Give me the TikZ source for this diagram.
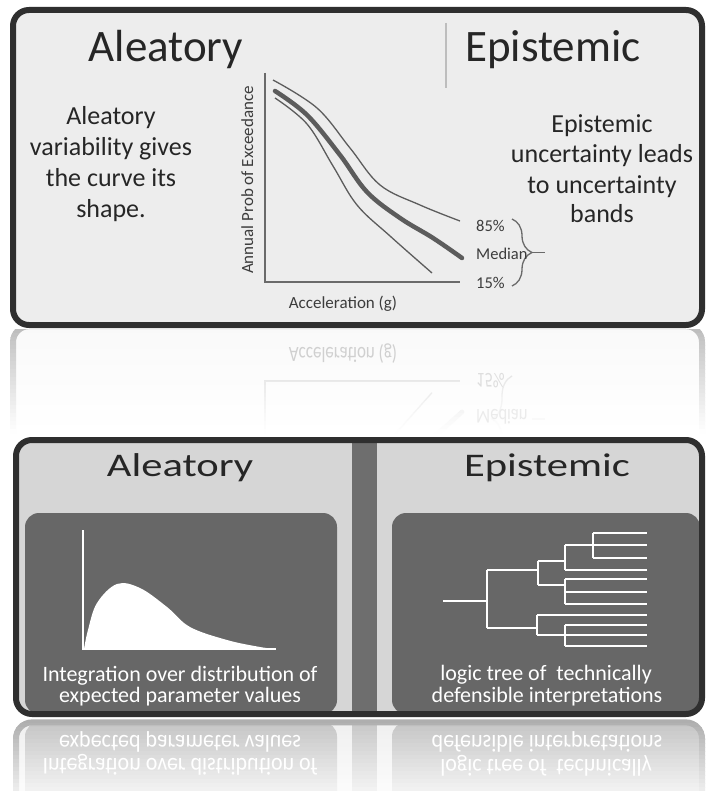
\documentclass[tikz,border=0pt]{standalone}
\usepackage{fontspec}
\setmainfont{Carlito}
\usetikzlibrary{decorations.pathreplacing}

% palette
\definecolor{frameC}{HTML}{2F2F2F}
\definecolor{paperC}{HTML}{EDEDED}
\definecolor{inkC}{HTML}{262626}
\definecolor{labC}{HTML}{3C3C3C}
\definecolor{axisC}{HTML}{6A6A6A}
\definecolor{curveC}{HTML}{5C5C5C}
\definecolor{sepC}{HTML}{BDBDBD}
\definecolor{slateC}{HTML}{D6D6D6}
\definecolor{boxC}{HTML}{676767}
\definecolor{barC}{HTML}{6E6E6E}
\definecolor{glyphC}{HTML}{FFFFFF}

\tikzset{
  titleTop/.style={font=\fontsize{45}{45}\selectfont, text=inkC, inner sep=0, anchor=base},
  bodyTop/.style={font=\fontsize{26}{26}\selectfont, text=inkC, inner sep=0, anchor=base},
  axlab/.style={font=\fontsize{17}{17}\selectfont, text=labC, inner sep=0, anchor=base},
  bandlab/.style={font=\fontsize{16.5}{16.5}\selectfont, text=labC, inner sep=0, anchor=base west},
  titleBot/.style={font=\fontsize{33}{33}\selectfont, text=inkC, inner sep=0, anchor=base},
  bodyBot/.style={font=\fontsize{22}{22}\selectfont, text=glyphC, inner sep=0, anchor=base},
  thinC/.style={curveC, line width=1.3},
  thickC/.style={curveC, line width=4.5, line cap=round},
  axisline/.style={axisC, line width=1.6},
  treeline/.style={glyphC, line width=1.5},
  mirrorTop/.style={shift={(0,325.5)}, yscale=-1.28, shift={(0,-325.5)}},
  mirrorBot/.style={shift={(0,718)}, yscale=-1.1, shift={(0,-718)}},
}

% ---------- hazard-curve panel ----------
\newcommand\TopFrame{%
  \fill[paperC, rounded corners=16] (13,10) rectangle (702,325);
  \draw[frameC, line width=6, rounded corners=16] (13,10) rectangle (702,325);
}
\newcommand\TopTexts{%
  \coordinate (sepA) at (446,23);
  \coordinate (sepB) at (446,88);
  \draw[sepC, line width=2] (sepA) -- (sepB);
  \node[titleTop] (tAl) at (166,62) {Aleatory};
  \node[titleTop] (tEp) at (553,62) {Epistemic};
  \foreach \txt/\yy [count=\i] in {Aleatory/125, variability gives/155.5, the curve its/187, shape./218}
    \node[bodyTop] (al\i) at (111,\yy) {\txt};
  \foreach \txt/\yy [count=\i] in {Epistemic/133, uncertainty leads/163, to uncertainty/194, bands/223}
    \node[bodyTop] (ep\i) at (602,\yy) {\txt};
}
\newcommand\TopLines{%
  \coordinate (O) at (265,282);
  \coordinate (Ytop) at (265,73);
  \coordinate (Xend) at (460,282);
  \draw[axisline] (Ytop) -- (O) -- (Xend);
  \draw[thinC] plot[smooth, tension=0.6] coordinates {(273,80) (317,108) (350,148) (380,185) (420,205) (460,221)};
  \draw[thickC] plot[smooth, tension=0.6] coordinates {(275,91) (307,115) (340,155) (367,192) (400,218) (433,238) (462,258)};
  \draw[thinC] plot[smooth, tension=0.6] coordinates {(275,98) (307,124) (333,166) (357,205) (390,236) (432,273)};
  \coordinate (brTop) at (512,219);
  \coordinate (brBot) at (512,286);
  \coordinate (brTip) at (532,252.5);
  \coordinate (brEnd) at (545,252.5);
  \draw[axisC, line width=1.3, decorate, decoration={brace, amplitude=20}] (brTop) -- (brBot);
  \draw[axisC, line width=1.3] (brTip) -- (brEnd);
}
\newcommand\TopLabels{%
  \node[axlab] (xlab) at (343,308) {Acceleration (g)};
  \node[axlab, rotate=90] (ylab) at (253,180) {Annual Prob of Exceedance};
  \node[bandlab] (p85) at (476,232) {85\%};
  \node[bandlab] (pmed) at (476,260) {Median};
  \node[bandlab] (p15) at (476,288) {15\%};
}

% ---------- aleatory / epistemic treatment panel ----------
\newcommand\BottomBase{%
  \fill[slateC, rounded corners=16] (16,440) rectangle (702,714);
  \fill[barC] (352,440) rectangle (377,714);
  \fill[boxC, rounded corners=14] (25,513) rectangle (337,714);
  \fill[boxC, rounded corners=14] (392,513) rectangle (700,714);
}
\newcommand\BottomFrame{%
  \draw[frameC, line width=6, rounded corners=16] (16,440) rectangle (702,714);
}
\newcommand\BottomTitles{%
  \node[titleBot] (bAl) at (180,476) {\scalebox{1.29}[1]{Aleatory}};
  \node[titleBot] (bEp) at (547,476) {\scalebox{1.29}[1]{Epistemic}};
}
\newcommand\BottomContent{%
  % skewed distribution
  \coordinate (dO) at (83,649);
  \coordinate (dTop) at (83,530);
  \coordinate (dEnd) at (276,649);
  \fill[glyphC] plot[smooth, tension=0.6] coordinates {(84,649) (88,630) (97,603) (117,584) (140,588) (167,607) (190,627) (227,640) (260,647) (276,649)} -- cycle;
  \draw[treeline] (dTop) -- (dO) -- (dEnd);
  % logic tree
  \draw[treeline] (443,601) -- (487,601);
  \draw[treeline] (487,570) -- (487,628);
  \draw[treeline] (487,570) -- (538,570);
  \draw[treeline] (538,561) -- (538,585);
  \draw[treeline] (538,561) -- (565,561);
  \draw[treeline] (565,545) -- (565,570);
  \draw[treeline] (565,545) -- (593,545);
  \draw[treeline] (593,533) -- (593,558);
  \foreach \yy in {533,545,558} \draw[treeline] (593,\yy) -- (647,\yy);
  \draw[treeline] (565,570) -- (647,570);
  \draw[treeline] (538,585) -- (565,585);
  \draw[treeline] (565,579) -- (565,604);
  \foreach \yy in {579,592,604} \draw[treeline] (565,\yy) -- (647,\yy);
  \draw[treeline] (487,628) -- (537,628);
  \draw[treeline] (537,615) -- (537,635);
  \draw[treeline] (537,615) -- (647,615);
  \draw[treeline] (537,635) -- (565,635);
  \draw[treeline] (565,625) -- (565,646);
  \foreach \yy in {625,635,646} \draw[treeline] (565,\yy) -- (647,\yy);
}
\newcommand\BottomCaptions{%
  \node[bodyBot] (iA) at (180,681) {Integration over distribution of};
  \node[bodyBot] (iB) at (180,702) {expected parameter values};
  \node[bodyBot] (lA) at (546,680) {logic tree of \ technically};
  \node[bodyBot] (lB) at (547,702) {defensible interpretations};
}

\newcommand\PaleColors[1]{%
  \colorlet{frameC}{frameC!#1!white}%
  \colorlet{paperC}{paperC!#1!white}%
  \colorlet{inkC}{inkC!#1!white}%
  \colorlet{labC}{labC!#1!white}%
  \colorlet{axisC}{axisC!#1!white}%
  \colorlet{curveC}{curveC!#1!white}%
  \colorlet{sepC}{sepC!#1!white}%
  \colorlet{slateC}{slateC!#1!white}%
  \colorlet{boxC}{boxC!#1!white}%
  \colorlet{barC}{barC!#1!white}%
}

\begin{document}
\begin{tikzpicture}[x=1pt, y=-1pt]
  \useasboundingbox (0,0) rectangle (707,791);
  \fill[white] (0,0) rectangle (707,791);

  % ---- reflection under the upper panel, paling band by band ----
  \foreach \i in {0,...,25} {
    \pgfmathsetmacro\lev{32*(1-((\i+0.5)/26)^0.9)}
    \begin{scope}
      \clip (0,329+4*\i) rectangle (707,333+4*\i);
      \PaleColors{\lev}
      \begin{scope}[mirrorTop]
        \TopFrame
        \TopLines
      \end{scope}
    \end{scope}
  }
  \begin{scope}
    \clip (0,329) rectangle (707,433);
    \begin{scope}[mirrorTop, every node/.append style={transform shape}]
      \colorlet{labC}{labC!24!white}
      \node[axlab] (xlabR) at (343,308) {Acceleration (g)};
      \colorlet{labC}{labC!70!white}
      \node[bandlab] (p15R) at (476,288) {15\%};
      \colorlet{labC}{labC!60!white}
      \node[bandlab] (pmedR) at (476,260) {Median};
    \end{scope}
  \end{scope}

  % ---- reflection under the lower panel ----
  \foreach \i in {0,...,17} {
    \pgfmathsetmacro\lev{40*(1-0.8*((\i+0.5)/18))}
    \begin{scope}
      \clip (0,719+4*\i) rectangle (707,723+4*\i);
      \PaleColors{\lev}
      \begin{scope}[mirrorBot]
        \BottomBase
        \BottomFrame
      \end{scope}
    \end{scope}
  }
  \begin{scope}
    \clip (0,719) rectangle (707,791);
    \begin{scope}[mirrorBot, every node/.append style={transform shape}]
      \BottomCaptions
    \end{scope}
  \end{scope}

  % ---- panels ----
  \TopFrame
  \TopTexts
  \TopLines
  \TopLabels

  \BottomBase
  \BottomTitles
  \BottomContent
  \BottomCaptions
  \BottomFrame
\end{tikzpicture}
\end{document}
